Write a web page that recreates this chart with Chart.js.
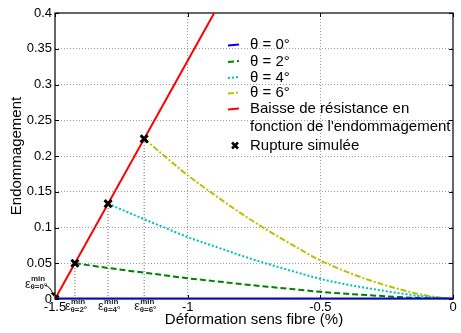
<!DOCTYPE html>
<html><head><meta charset="utf-8">
<script src="https://cdn.jsdelivr.net/npm/chart.js@4/dist/chart.umd.min.js"></script>
<style>html,body{margin:0;padding:0;background:#fff;}canvas{display:block;}</style>
</head><body>
<canvas id="c" width="461" height="333"></canvas>
<script>
// ---- data ----
const xTickValues = [-1.5, -1, -0.5, 0];
const yTickValues = [0, 0.05, 0.1, 0.15, 0.2, 0.25, 0.3, 0.35, 0.4];

const blueX = [-1.5, 0];
const blueY = [0, 0];

const greenX = [-1.425, -1.3, -1.2, -1.1, -1.0, -0.9, -0.8, -0.7, -0.6, -0.5, -0.4, -0.3, -0.2, -0.1, 0];
const greenY = [0.05, 0.0434, 0.0385, 0.0338, 0.0290, 0.0250, 0.0210, 0.0172, 0.0137, 0.0100, 0.0073, 0.0049, 0.0027, 0.0010, 0];

const cyanX = [-1.3, -1.2, -1.1, -1.0, -0.9, -0.8, -0.7, -0.6, -0.5, -0.4, -0.3, -0.2, -0.1, 0];
const cyanY = [0.1333, 0.1172, 0.1018, 0.0866, 0.0738, 0.0610, 0.0492, 0.0384, 0.0282, 0.0202, 0.0138, 0.0080, 0.0032, 0];

const yellowX = [-1.164, -1.1, -1.0, -0.9, -0.8, -0.7, -0.6, -0.5, -0.4, -0.3, -0.2, -0.1, 0];
const yellowY = [0.224, 0.204, 0.173, 0.146, 0.120, 0.0963, 0.0746, 0.054, 0.038, 0.0245, 0.0135, 0.0048, 0];

const redX = [-1.5, -0.9];
const redY = [0, 0.4];

const ruptureX = [-1.5, -1.425, -1.3, -1.164];
const ruptureY = [0, 0.05, 0.1333, 0.224];

const epsSubscripts = ['θ=0°', 'θ=2°', 'θ=4°', 'θ=6°'];
const legendLabels = ['θ = 0°', 'θ = 2°', 'θ = 4°', 'θ = 6°', ['Baisse de résistance en', "fonction de l'endommagement"], 'Rupture simulée'];
const xTitle = 'Déformation sens fibre (%)';
const yTitle = 'Endommagement';

// ---- build ----
const pts = (xs, ys) => xs.map((x, i) => ({x: x, y: ys[i]}));
const FONT = "'Liberation Sans', Arial, Helvetica, sans-serif";
Chart.defaults.font.family = FONT;
Chart.defaults.color = '#000';

const series = [
  {label: legendLabels[0], data: pts(blueX, blueY), borderColor: '#0000ff', borderWidth: 3, borderDash: [], order: 1},
  {label: legendLabels[1], data: pts(greenX, greenY), borderColor: '#008000', borderWidth: 2, borderDash: [6, 3], order: 2},
  {label: legendLabels[2], data: pts(cyanX, cyanY), borderColor: '#00bfbf', borderWidth: 2, borderDash: [2, 2], order: 3},
  {label: legendLabels[3], data: pts(yellowX, yellowY), borderColor: '#bfbf00', borderWidth: 2, borderDash: [6, 2, 2, 2], order: 4},
  {label: 'red', data: pts(redX, redY), borderColor: '#ff0000', borderWidth: 2, borderDash: [], order: 0}
];
const datasets = series.map(s => Object.assign({showLine: true, pointRadius: 0, cubicInterpolationMode: 'monotone', fill: false}, s));
// drop lines from rupture points
for (let i = 1; i < ruptureX.length; i++) {
  datasets.push({label: 'drop' + i, data: pts([ruptureX[i], ruptureX[i]], [0, ruptureY[i]]), showLine: true, pointRadius: 0,
    borderColor: '#666', borderWidth: 1, borderDash: [1, 2], order: 6});
}
datasets.push({label: 'rupture', data: pts(ruptureX, ruptureY), showLine: false, pointStyle: 'crossRot',
  pointRadius: 5, pointBorderWidth: 3, pointBorderColor: '#000', pointBackgroundColor: '#000', order: -1});

const fmt = v => String(Number(v.toFixed(3)));

const boxPlugin = {
  id: 'box',
  beforeDatasetsDraw(chart) {
    const {ctx, chartArea: a, scales} = chart;
    ctx.save();
    ctx.strokeStyle = '#000';
    ctx.lineWidth = 1.2;
    ctx.strokeRect(a.left, a.top, a.right - a.left, a.bottom - a.top);
    ctx.lineWidth = 1;
    ctx.beginPath();
    xTickValues.forEach(v => {
      const p = Math.round(scales.x.getPixelForValue(v)) + 0.5;
      ctx.moveTo(p, a.bottom); ctx.lineTo(p, a.bottom - 4);
      ctx.moveTo(p, a.top); ctx.lineTo(p, a.top + 4);
    });
    yTickValues.forEach(v => {
      const p = Math.round(scales.y.getPixelForValue(v)) + 0.5;
      ctx.moveTo(a.left, p); ctx.lineTo(a.left + 4, p);
      ctx.moveTo(a.right, p); ctx.lineTo(a.right - 4, p);
    });
    ctx.stroke();
    ctx.restore();
  },
  afterDraw(chart) {
    const {ctx, chartArea: a, scales} = chart;
    ctx.save();
    // epsilon labels
    ctx.fillStyle = '#222';
    ctx.textBaseline = 'middle';
    ctx.textAlign = 'left';
    for (let i = 1; i < ruptureX.length; i++) {
      const px = scales.x.getPixelForValue(ruptureX[i]);
      ctx.font = '13px ' + FONT;
      ctx.fillText('ε', px - 10, 306.5);
      ctx.font = 'bold 8px ' + FONT;
      ctx.fillText('min', px - 4, 302);
      ctx.fillText(epsSubscripts[i], px - 4.5, 310);
    }
    // theta = 0 label with arrow
    ctx.font = '13px ' + FONT;
    ctx.fillText('ε', 25, 284);
    ctx.font = 'bold 8px ' + FONT;
    ctx.fillText('min', 31, 278.5);
    ctx.fillText(epsSubscripts[0], 30.5, 287);
    const ox = scales.x.getPixelForValue(ruptureX[0]);
    const oy = scales.y.getPixelForValue(ruptureY[0]);
    ctx.strokeStyle = '#000'; ctx.lineWidth = 1;
    ctx.beginPath();
    ctx.moveTo(45, 285.5);
    ctx.quadraticCurveTo(50, 286, ox - 2, oy - 5);
    ctx.stroke();
    ctx.beginPath();
    ctx.moveTo(ox - 1, oy - 2.5); ctx.lineTo(ox - 4.5, oy - 6); ctx.lineTo(ox + 0.5, oy - 6.5); ctx.closePath();
    ctx.fillStyle = '#000'; ctx.fill();

    // legend
    const rowsY = [45, 61.5, 77.5, 93, 109, 145.5];
    const lx0 = 228, lx1 = 239, tx = 250;
    ctx.font = '15px ' + FONT;
    ctx.fillStyle = '#000';
    for (let i = 0; i < 5; i++) {
      const ds = datasets[i];
      ctx.strokeStyle = ds.borderColor;
      ctx.lineWidth = Math.min(ds.borderWidth, 2);
      ctx.setLineDash(ds.borderDash || []);
      ctx.beginPath(); ctx.moveTo(lx0, rowsY[i] + 0.5); ctx.lineTo(lx1, rowsY[i] - 0.5); ctx.stroke();
      ctx.setLineDash([]);
      const lab = legendLabels[i];
      if (Array.isArray(lab)) {
        ctx.fillText(lab[0], tx, rowsY[i]);
        ctx.fillText(lab[1], tx, rowsY[i] + 17.5);
      } else ctx.fillText(lab, tx, rowsY[i]);
    }
    // rupture marker in legend
    const my = rowsY[5], mx = 235;
    ctx.strokeStyle = '#000'; ctx.lineWidth = 2.5;
    ctx.beginPath();
    ctx.moveTo(mx - 3, my - 3); ctx.lineTo(mx + 3, my + 3);
    ctx.moveTo(mx + 3, my - 3); ctx.lineTo(mx - 3, my + 3);
    ctx.stroke();
    ctx.fillText(legendLabels[5], tx, my);
    ctx.restore();
  }
};

new Chart(document.getElementById('c'), {
  type: 'scatter',
  data: {datasets},
  options: {
    responsive: false,
    animation: false,
    layout: {padding: {top: 13, right: 1, left: 0, bottom: 0}},
    plugins: {legend: {display: false}, tooltip: {enabled: false}},
    scales: {
      x: {
        type: 'linear', min: -1.5, max: 0,
        afterBuildTicks: s => { s.ticks = xTickValues.map(v => ({value: v})); },
        afterFit: s => { s.height = 34; },
        ticks: {font: {size: 13}, padding: 1, callback: v => fmt(v), maxRotation: 0, autoSkip: false},
        grid: {drawTicks: false, lineWidth: 1, color: ctx => (ctx.tick && (ctx.tick.value === -1 || ctx.tick.value === -0.5)) ? '#9a9a9a' : 'rgba(0,0,0,0)'},
        border: {display: false, dash: [1, 2]},
        title: {display: true, text: xTitle, font: {size: 15}, padding: {top: 0, bottom: 4}}
      },
      y: {
        type: 'linear', min: 0, max: 0.4,
        afterBuildTicks: s => { s.ticks = yTickValues.map(v => ({value: v})); },
        afterFit: s => { s.width = 55; },
        ticks: {font: {size: 13}, padding: 3, callback: v => fmt(v), autoSkip: false},
        grid: {drawTicks: false, lineWidth: 1, color: ctx => (ctx.tick && ctx.tick.value > 0.001 && ctx.tick.value < 0.399) ? '#9a9a9a' : 'rgba(0,0,0,0)'},
        border: {display: false, dash: [1, 2]},
        title: {display: true, text: yTitle, font: {size: 15}, padding: {top: 8, bottom: 0}}
      }
    }
  },
  plugins: [boxPlugin]
});
</script>
</body></html>
